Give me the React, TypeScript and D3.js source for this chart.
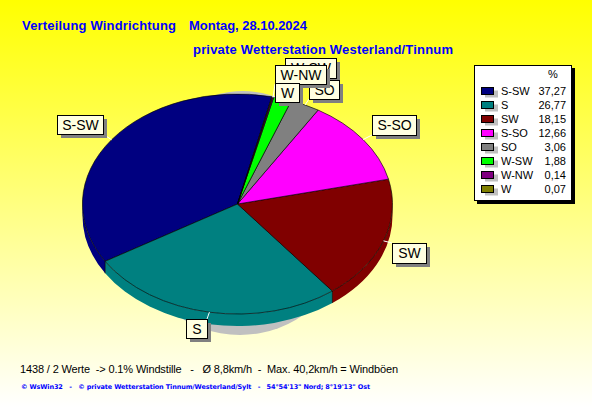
import React from "react";
import * as d3 from "d3";

const W = 592, H = 407;
const categories = ["S-SW", "S", "SW", "S-SO", "SO", "W-SW", "W-NW", "W"];
const percentLabels = ["37,27", "26,77", "18,15", "12,66", "3,06", "1,88", "0,14", "0,07"];
const percentValues = [37.27, 26.77, 18.15, 12.66, 3.06, 1.88, 0.14, 0.07];
const faceColors = ["#000080", "#008080", "#800000", "#ff00ff", "#808080", "#00ff00", "#800080", "#808000"];

// call-out label boxes: x, y, width, height; drawn in this order
const calloutOrder = [5, 4, 6, 7, 0, 3, 2, 1];
const calloutBoxes: Record<string, number[]> = {
  "S-SW": [57, 115, 46, 19],
  "S": [186, 319, 21, 19],
  "SW": [392, 243, 34, 20],
  "S-SO": [372, 115, 44, 20],
  "SO": [309, 80, 30, 19],
  "W-SW": [285, 58, 51, 20],
  "W-NW": [275, 65, 51, 19],
  "W": [275, 83, 24, 19],
};

const cx = 237.5, cy = 204, rx = 155, ry = 110, depth = 12;
const startDeg = 12.8;
const rad = Math.PI / 180;

const pie = d3.pie<number>().sort(null).startAngle(startDeg * rad).endAngle((startDeg - 360) * rad);
const slices = pie(percentValues);
const unitArc = d3.arc<d3.PieArcDatum<number>>().innerRadius(0).outerRadius(1);
const rim = (a: number, dy = 0): [number, number] => [cx + rx * Math.sin(a), cy - ry * Math.cos(a) + dy];

function wallSpans(a0: number, a1: number): [number, number][] {
  const out: [number, number][] = [];
  for (let k = -1; k <= 1; k++) {
    const vLo = Math.PI / 2 + k * 2 * Math.PI, vHi = 1.5 * Math.PI + k * 2 * Math.PI;
    const s = Math.max(a1, vLo), e = Math.min(a0, vHi);
    if (e > s) out.push([e, s]);
  }
  return out;
}
function wallPath([e, s]: [number, number]): string {
  const p = rim(e), q = rim(s), q2 = rim(s, depth), p2 = rim(e, depth);
  return `M${p}A${rx},${ry} 0 0 0 ${q}L${q2}A${rx},${ry} 0 0 1 ${p2}Z`;
}

const LEG_ROW = d3.scalePoint<number>().domain(d3.range(8)).range([91, 189]);
const sans = "'Liberation Sans', Arial, sans-serif";

export default function App() {
  return (
    <svg width={W} height={H} viewBox={`0 0 ${W} ${H}`} style={{ position: "absolute", left: 0, top: 0 }} fontFamily={sans}>
      <defs>
        <linearGradient id="bg" x1="0" y1="0" x2="0" y2="1">
          <stop offset="0" stopColor="#ffff00" />
          <stop offset="1" stopColor="#ffffff" />
        </linearGradient>
      </defs>
      <rect width={W} height={H} fill="url(#bg)" />

      <text x={22} y={30} fontSize={13} fontWeight="bold" fill="#0000ff" textLength={154}>Verteilung Windrichtung</text>
      <text x={189} y={30} fontSize={13} fontWeight="bold" fill="#0000ff" textLength={118}>Montag, 28.10.2024</text>
      <text x={193} y={54} fontSize={13} fontWeight="bold" fill="#0000ff" textLength={260}>private Wetterstation Westerland/Tinnum</text>

      {/* shadow */}
      <ellipse cx={240} cy={246} rx={100} ry={89} fill="#c0c0c0" />
      <ellipse cx={243} cy={143} rx={70} ry={52} fill="#c0c0c0" />

      {/* wall */}
      {slices.map((s, i) =>
        wallSpans(s.startAngle, s.endAngle).map((sp, j) => (
          <path key={`${i}-${j}`} d={wallPath(sp)} fill={faceColors[i]} />
        ))
      )}
      {slices.map((s, i) => {
        const [x, y] = rim(s.startAngle);
        return Math.cos(s.startAngle) < 0 ? <line key={i} x1={x} y1={y} x2={x} y2={y + depth} stroke="#000" strokeOpacity={0.7} /> : null;
      })}
      {/* faces */}
      <g transform={`translate(${cx},${cy}) scale(${rx},${ry})`}>
        {slices.map((s, i) => (
          <path key={i} d={unitArc(s) as string} fill={faceColors[i]} stroke="#000" strokeOpacity={0.8} strokeWidth={0.8} vectorEffect="non-scaling-stroke" />
        ))}
      </g>

      {/* leaders */}
      {slices.map((s, i) => {
        const b = calloutBoxes[categories[i]];
        const mid = (s.startAngle + s.endAngle) / 2;
        const [x0, y0] = rim(mid);
        const x1 = Math.max(b[0], Math.min(b[0] + b[2], x0));
        const y1 = Math.max(b[1], Math.min(b[1] + b[3], y0));
        return <line key={i} x1={x0} y1={y0} x2={x1} y2={y1} stroke="#fff" strokeWidth={1} />;
      })}

      {/* call-outs */}
      {calloutOrder.map((i) => {
        const name = categories[i];
        const [x, y, w, h] = calloutBoxes[name];
        return (
          <g key={name}>
            <rect x={x + 4} y={y + 4} width={w} height={h} fill="#808080" />
            <rect x={x + 0.5} y={y + 0.5} width={w} height={h} fill="#ffffe1" stroke="#000" strokeWidth={1} />
            <text x={x + w / 2 + 0.5} y={y + h / 2 + 5} textAnchor="middle" fontSize={14} fill="#000">{name}</text>
          </g>
        );
      })}

      {/* legend */}
      <rect x={477} y={68} width={98} height={136} fill="#000" />
      <rect x={474.5} y={65.5} width={97} height={135} fill="#ffffff" stroke="#000" />
      <text x={553} y={78} textAnchor="middle" fontSize={11} fill="#000">%</text>
      {categories.map((c, i) => {
        const y = LEG_ROW(i) as number;
        return (
          <g key={c}>
            <rect x={485} y={y - 0.5} width={13} height={7} fill="#c0c0c0" />
            <rect x={481.5} y={y - 3.5} width={12} height={7} fill={faceColors[i]} stroke="#000" />
            <text x={501} y={y + 4} fontSize={11} fill="#000">{c}</text>
            <text x={566} y={y + 4} textAnchor="end" fontSize={11} fill="#000">{percentLabels[i]}</text>
          </g>
        );
      })}

      <text x={20} y={373} fontSize={11} fill="#000" xmlSpace="preserve" textLength={378}>{"1438 / 2 Werte  -> 0.1% Windstille   -   Ø 8,8km/h  -  Max. 40,2km/h = Windböen"}</text>
      <text x={21} y={389} fontSize={6.5} fontWeight="bold" fontFamily="'DejaVu Sans', sans-serif" fill="#0000ff" xmlSpace="preserve" textLength={349}>{"© WsWin32   -   © private Wetterstation Tinnum/Westerland/Sylt   -   54°54'13\" Nord; 8°19'13\" Ost"}</text>
    </svg>
  );
}
